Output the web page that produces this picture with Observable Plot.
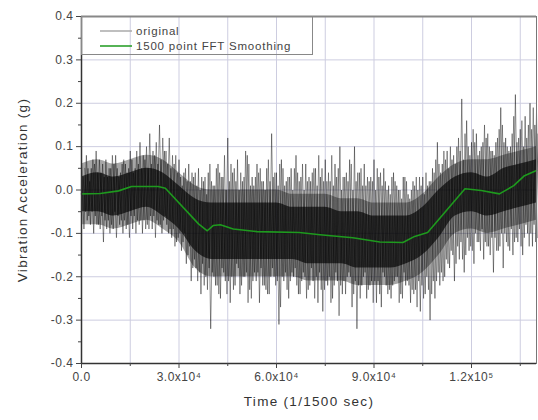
<!DOCTYPE html>
<html>
<head>
<meta charset="utf-8">
<script src="https://cdn.jsdelivr.net/npm/d3@7"></script>
<script src="https://cdn.jsdelivr.net/npm/@observablehq/plot@0.6"></script>
<style>
  html, body { margin: 0; padding: 0; background: #fff; }
  #wrap { position: relative; width: 538px; height: 420px; font-family: "Liberation Sans", Arial, sans-serif; }
  #legend { position: absolute; left: 81px; top: 16px; width: 232px; height: 39px; border: 1.5px solid #888; border-top: none; box-sizing: border-box; }
  .row { position: absolute; left: 0; height: 14px; display: flex; align-items: center; font-size: 11.5px; letter-spacing: 0.8px; color: #444; white-space: nowrap; }
  .row svg { margin-left: 18px; margin-right: 4px; }
</style>
</head>
<body>
<div id="wrap"></div>
<script>
// ---- axis ticks ----
const xTicks = [0, 30000, 60000, 90000, 120000];
const xTickLabels = ["0.0", "3.0x10⁴", "6.0x10⁴", "9.0x10⁴", "1.2x10⁵"];
const xMinorTicks = [15000, 45000, 75000, 105000, 135000];
const xGrid = [15000, 30000, 45000, 60000, 75000, 90000, 105000, 120000, 135000];
const yTicks = [-0.4, -0.3, -0.2, -0.1, 0, 0.1, 0.2, 0.3, 0.4];
const yMinorTicks = [-0.35, -0.25, -0.15, -0.05, 0.05, 0.15, 0.25, 0.35];

// ---- 1500 point FFT smoothing (green) ----
const smoothT = [0, 5800, 11400, 15400, 23600, 25800, 36000, 38700, 40500, 42700, 46700, 54000, 67000, 73400, 83500, 91800, 98900, 102500, 106500, 118000, 123000, 128600, 133000, 136300, 140000];
const smoothV = [-0.009, -0.008, -0.002, 0.008, 0.008, 0.004, -0.078, -0.094, -0.082, -0.080, -0.090, -0.096, -0.098, -0.103, -0.110, -0.120, -0.121, -0.107, -0.098, 0.003, -0.001, -0.009, 0.010, 0.033, 0.045];

// ---- original signal: spike extremes every 1500 samples (three interleaved passes) ----
const spikeT = [0,1500,3000,4500,6000,7500,9000,10500,12000,13500,15000,16500,18000,19500,21000,22500,24000,25500,27000,28500,30000,31500,33000,34500,36000,37500,39000,40500,42000,43500,45000,46500,48000,49500,51000,52500,54000,55500,57000,58500,60000,61500,63000,64500,66000,67500,69000,70500,72000,73500,75000,76500,78000,79500,81000,82500,84000,85500,87000,88500,90000,91500,93000,94500,96000,97500,99000,100500,102000,103500,105000,106500,108000,109500,111000,112500,114000,115500,117000,118500,120000,121500,123000,124500,126000,127500,129000,130500,132000,133500,135000,136500,138000,139500];
const spikeHi = [0.06,0.08,0.05,0.09,0.04,0.07,0.05,0.08,0.04,0.06,0.09,0.05,0.11,0.07,0.13,0.08,0.15,0.09,0.12,0.06,0.07,0.04,0.06,0.03,0.05,0.02,0.04,0.01,0.06,0.03,0.12,0.04,0.07,0.02,0.08,0.03,0.06,0.02,0.05,0.13,0.04,0.07,0.02,0.05,0.08,0.03,0.06,0.02,0.05,0.03,0.07,0.02,0.06,0.10,0.03,0.07,0.10,0.04,0.06,0.02,0.07,0.03,0.05,0.01,0.04,0.00,0.03,-0.01,0.02,0.00,0.03,0.01,0.05,0.11,0.06,0.09,0.07,0.10,0.21,0.16,0.11,0.13,0.10,0.12,0.09,0.11,0.19,0.12,0.10,0.22,0.14,0.17,0.20,0.15];
const spikeLo = [-0.09,-0.06,-0.10,-0.08,-0.12,-0.07,-0.09,-0.06,-0.10,-0.08,-0.09,-0.07,-0.10,-0.08,-0.09,-0.07,-0.10,-0.08,-0.11,-0.12,-0.14,-0.17,-0.21,-0.18,-0.24,-0.20,-0.32,-0.22,-0.25,-0.21,-0.26,-0.22,-0.24,-0.20,-0.23,-0.19,-0.26,-0.22,-0.24,-0.20,-0.31,-0.21,-0.25,-0.20,-0.24,-0.19,-0.23,-0.21,-0.26,-0.28,-0.22,-0.25,-0.21,-0.24,-0.20,-0.27,-0.32,-0.22,-0.25,-0.21,-0.26,-0.27,-0.22,-0.25,-0.20,-0.24,-0.22,-0.26,-0.23,-0.28,-0.24,-0.30,-0.25,-0.22,-0.20,-0.18,-0.21,-0.16,-0.19,-0.14,-0.17,-0.12,-0.16,-0.13,-0.19,-0.14,-0.18,-0.13,-0.15,-0.12,-0.15,-0.10,-0.13,-0.11];
const spikeHi2 = [0.03,0.05,0.07,0.04,0.06,0.03,0.08,0.05,0.06,0.04,0.07,0.09,0.05,0.10,0.06,0.11,0.07,0.09,0.05,0.08,
  0.03,0.05,0.02,0.04,0.00,0.03,0.06,0.01,0.04,0.08,0.02,0.05,0.00,0.03,0.06,0.01,0.04,0.02,0.07,0.03,0.01,0.05,0.03,0.00,0.04,0.06,0.02,0.04,0.01,0.05,0.02,0.08,0.03,0.00,0.04,0.06,0.02,0.05,0.01,0.03,0.00,0.04,0.02,-0.01,0.02,0.00,0.03,-0.02,0.01,0.03,-0.01,0.02,0.04,
  0.06,0.09,0.05,0.08,0.12,0.07,0.10,0.14,0.08,0.11,0.13,0.09,0.12,0.15,0.10,0.13,0.11,0.16,0.12,0.14,0.18];
const spikeLo2 = [-0.05,-0.08,-0.06,-0.09,-0.07,-0.10,-0.05,-0.08,-0.07,-0.11,-0.06,-0.08,-0.07,-0.09,-0.06,-0.08,-0.07,-0.10,-0.09,-0.11,
  -0.12,-0.15,-0.18,-0.21,-0.17,-0.23,-0.19,-0.22,-0.18,-0.24,-0.20,-0.17,-0.22,-0.19,-0.25,-0.21,-0.18,-0.23,-0.20,-0.22,-0.27,-0.19,-0.21,-0.18,-0.24,-0.20,-0.22,-0.25,-0.19,-0.23,-0.20,-0.22,-0.29,-0.21,-0.19,-0.24,-0.22,-0.20,-0.23,-0.26,-0.21,-0.19,-0.24,-0.22,-0.20,-0.25,-0.21,-0.23,-0.27,-0.22,-0.20,-0.24,-0.21,
  -0.19,-0.16,-0.14,-0.17,-0.12,-0.15,-0.13,-0.10,-0.14,-0.12,-0.15,-0.11,-0.13,-0.10,-0.14,-0.12,-0.09,-0.11,-0.13,-0.08,-0.10];
const spikeHi3 = [0.05,0.02,0.06,0.07,0.03,0.05,0.06,0.03,0.07,0.05,0.04,0.06,0.08,0.05,0.09,0.06,0.12,0.06,0.08,0.04,
  0.01,0.02,0.04,0.01,0.03,-0.01,0.02,0.05,0.03,0.00,0.06,0.02,0.04,0.09,0.01,0.03,0.05,0.00,0.02,0.04,0.06,0.01,0.03,0.05,0.02,0.00,0.03,0.05,0.08,0.02,0.04,0.01,0.05,0.03,0.02,0.00,0.04,0.01,0.03,0.02,0.05,0.01,0.00,0.03,0.01,-0.02,0.02,0.00,0.03,0.01,0.04,0.02,0.07,
  0.04,0.07,0.10,0.06,0.09,0.13,0.08,0.11,0.09,0.15,0.10,0.08,0.14,0.11,0.09,0.17,0.12,0.10,0.15,0.19,0.13];
const spikeLo3 = [-0.07,-0.05,-0.08,-0.06,-0.09,-0.08,-0.11,-0.07,-0.09,-0.06,-0.10,-0.07,-0.09,-0.06,-0.11,-0.08,-0.06,-0.09,-0.13,-0.10,
  -0.10,-0.13,-0.16,-0.19,-0.22,-0.18,-0.20,-0.24,-0.19,-0.21,-0.23,-0.18,-0.20,-0.26,-0.21,-0.19,-0.22,-0.24,-0.18,-0.21,-0.20,-0.23,-0.19,-0.22,-0.21,-0.25,-0.18,-0.20,-0.23,-0.21,-0.26,-0.19,-0.22,-0.24,-0.20,-0.21,-0.25,-0.19,-0.22,-0.21,-0.24,-0.20,-0.23,-0.21,-0.26,-0.19,-0.22,-0.24,-0.21,-0.25,-0.23,-0.21,-0.19,
  -0.21,-0.17,-0.15,-0.13,-0.16,-0.11,-0.14,-0.12,-0.09,-0.13,-0.11,-0.14,-0.10,-0.12,-0.09,-0.11,-0.13,-0.08,-0.10,-0.12,-0.09];

// ---- original signal: dense core (inner) and haze (outer) bands every 5000 samples ----
const coreT = [0,5000,10000,15000,20000,25000,30000,35000,40000,45000,50000,55000,60000,65000,70000,75000,80000,85000,90000,95000,100000,105000,110000,115000,120000,125000,130000,135000,140000];
const coreHi = [0.03,0.04,0.03,0.04,0.05,0.04,0.01,-0.02,-0.03,-0.03,-0.03,-0.03,-0.03,-0.04,-0.04,-0.04,-0.05,-0.05,-0.06,-0.06,-0.06,-0.04,0.00,0.03,0.04,0.03,0.05,0.06,0.07];
const coreLo = [-0.05,-0.05,-0.06,-0.05,-0.04,-0.06,-0.09,-0.14,-0.16,-0.16,-0.16,-0.16,-0.16,-0.16,-0.17,-0.17,-0.17,-0.18,-0.18,-0.18,-0.17,-0.15,-0.11,-0.06,-0.05,-0.06,-0.05,-0.04,-0.03];
const hazeHi = [0.06,0.07,0.06,0.07,0.08,0.07,0.04,0.01,0.00,0.00,0.00,0.00,0.00,-0.01,-0.01,-0.01,-0.02,-0.02,-0.03,-0.03,-0.03,-0.01,0.03,0.06,0.07,0.07,0.08,0.09,0.10];
const hazeLo = [-0.08,-0.08,-0.09,-0.08,-0.07,-0.09,-0.12,-0.18,-0.20,-0.20,-0.20,-0.20,-0.20,-0.20,-0.21,-0.21,-0.21,-0.22,-0.22,-0.22,-0.21,-0.19,-0.15,-0.10,-0.09,-0.10,-0.09,-0.08,-0.07];

// tables built from the arrays
const smooth = smoothT.map((t, i) => ({t, v: smoothV[i]}));
const core = coreT.map((t, i) => ({t, hi: coreHi[i], lo: coreLo[i]}));
const haze = coreT.map((t, i) => ({t, hi: hazeHi[i], lo: hazeLo[i]}));
function zigzag(hi, lo, shift) {
  const out = [];
  spikeT.forEach((t, i) => {
    out.push({t: t + shift, v: hi[i]});
    out.push({t: t + shift + 750, v: lo[i]});
  });
  return out;
}
const trace1 = zigzag(spikeHi, spikeLo, 0);
const trace2 = zigzag(spikeHi2, spikeLo2, 500);
const trace3 = zigzag(spikeHi3, spikeLo3, 1000);

const chart = Plot.plot({
  width: 538,
  height: 420,
  marginTop: 16,
  marginBottom: 57,
  marginLeft: 81,
  marginRight: 2,
  style: {fontFamily: "'Liberation Sans', Arial, sans-serif", fontSize: "12px", background: "transparent", color: "#444"},
  x: {domain: [0, 140000]},
  y: {domain: [-0.4, 0.4]},
  marks: [
    Plot.gridX(xGrid, {stroke: "#cdcde0", strokeOpacity: 1}),
    Plot.gridY(yTicks, {stroke: "#cdcde0", strokeOpacity: 1}),
    Plot.areaY(haze, {x: "t", y1: "lo", y2: "hi", fill: "#000", fillOpacity: 0.35, curve: "monotone-x"}),
    Plot.areaY(core, {x: "t", y1: "lo", y2: "hi", fill: "#000", fillOpacity: 0.65, curve: "monotone-x"}),
    Plot.line(trace2, {x: "t", y: "v", stroke: "#000", strokeWidth: 0.7, strokeOpacity: 0.55}),
    Plot.line(trace3, {x: "t", y: "v", stroke: "#000", strokeWidth: 0.7, strokeOpacity: 0.55}),
    Plot.line(trace1, {x: "t", y: "v", stroke: "#000", strokeWidth: 0.7, strokeOpacity: 0.6}),
    Plot.line(smooth, {x: "t", y: "v", stroke: "#1e9a1e", strokeWidth: 1.6}),
    Plot.frame({stroke: "#777", strokeWidth: 1}),
    Plot.ruleX([0], {stroke: "#333", strokeWidth: 1.5}),
    Plot.ruleY([-0.4], {stroke: "#333", strokeWidth: 1.5}),
    Plot.ruleY([0.4], {stroke: "#888", strokeWidth: 2}),
    Plot.axisX(xTicks, {tickFormat: (d, i) => xTickLabels[i], tickSize: 5, tickPadding: 4, label: "Time (1/1500 sec)", labelAnchor: "center", labelOffset: 42, labelArrow: "none"}),
    Plot.axisX(xMinorTicks, {tickSize: 3, tickFormat: () => "", label: null}),
    Plot.axisY(yTicks, {tickFormat: d => d.toFixed(1), tickSize: 5, tickPadding: 3, label: "Vibration Acceleration (g)", labelAnchor: "center", labelOffset: 64, labelArrow: "none"}),
    Plot.axisY(yMinorTicks, {tickSize: 3, tickFormat: () => "", label: null})
  ]
});

const wrap = document.getElementById("wrap");
wrap.appendChild(chart);
d3.select(chart).selectAll("[aria-label='x-axis label'] text, [aria-label='y-axis label'] text")
  .style("font-size", "13.5px").style("letter-spacing", "1.3px").style("fill", "#333");
d3.select(chart).selectAll("[aria-label='x-axis tick label'] text, [aria-label='y-axis tick label'] text")
  .style("letter-spacing", "0.5px");

// legend overlay
const legend = document.createElement("div");
legend.id = "legend";
const entries = [["original", "#aaa"], ["1500 point FFT Smoothing", "#1e9a1e"]];
entries.forEach(([name, color], i) => {
  const row = document.createElement("div");
  row.className = "row";
  row.style.top = (8 + i * 15) + "px";
  row.innerHTML = `<svg width="32" height="4"><line x1="0" x2="32" y1="2" y2="2" stroke="${color}" stroke-width="1.5"/></svg><span>${name}</span>`;
  legend.appendChild(row);
});
wrap.appendChild(legend);
</script>
</body>
</html>
